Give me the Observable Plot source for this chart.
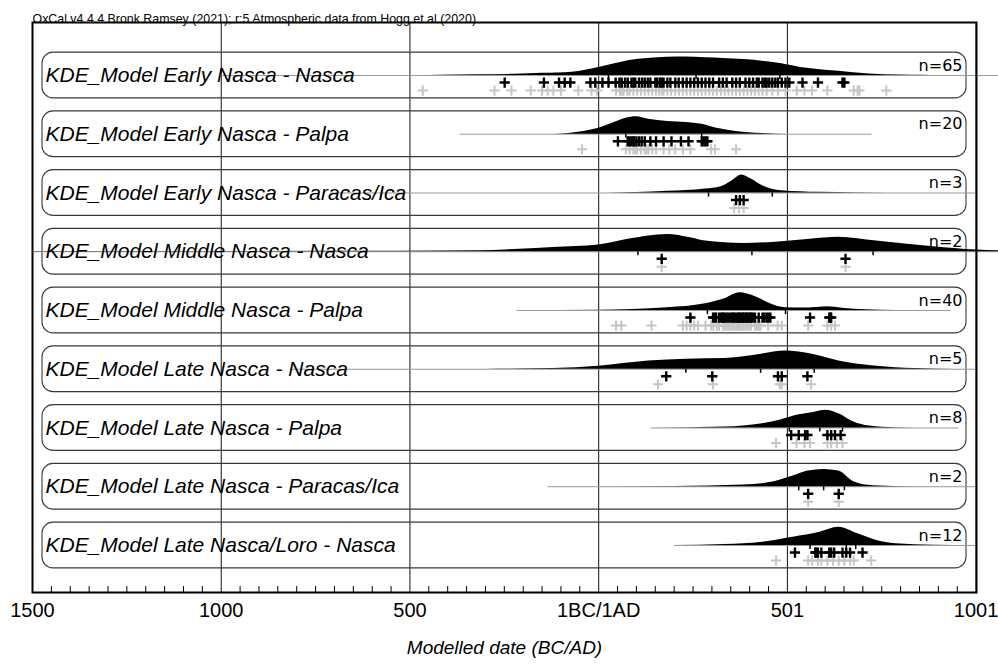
<!DOCTYPE html>
<html><head><meta charset="utf-8">
<script src="https://cdn.jsdelivr.net/npm/d3@7"></script>
<script src="https://cdn.jsdelivr.net/npm/@observablehq/plot@0.6"></script>
<style>body{margin:0;background:#fff}</style>
</head><body><div id="chart"></div>
<script>
// ---------- data ----------
const rowLabels = [
  "KDE_Model Early Nasca - Nasca",
  "KDE_Model Early Nasca - Palpa",
  "KDE_Model Early Nasca - Paracas/Ica",
  "KDE_Model Middle Nasca - Nasca",
  "KDE_Model Middle Nasca - Palpa",
  "KDE_Model Late Nasca - Nasca",
  "KDE_Model Late Nasca - Palpa",
  "KDE_Model Late Nasca - Paracas/Ica",
  "KDE_Model Late Nasca/Loro - Nasca"
];
const counts = [65, 20, 3, 2, 40, 5, 8, 2, 12];
const rangeStart = [-1005, -367, -710, -1500, -216, -817, 139, -135, 201];
const rangeEnd   = [1060, 724, 1001, 1060, 933, 1001, 954, 1001, 1001];

// KDE outlines: [year, relative height]
const kdeEarlyNasca = [[-480,0],[-420,0.3],[-320,0.8],[-221,1.2],[-150,2.2],[-70,3.3],[0,8],[40,11.5],[82,15],[130,17],[182,18.3],[230,18.5],[283,17.7],[330,17],[384,16],[440,14],[485,11.7],[535,8],[580,6],[636,4.3],[700,2],[757,0.7],[830,0.2],[880,0]];
const kdeEarlyPalpa = [[-120,0],[-80,0.8],[-39,2.7],[0,6],[41,11.7],[72,16],[100,17.5],[132,15],[182,12.7],[233,11.7],[273,10],[313,6],[364,2.7],[434,0.7],[500,0]];
const kdeEarlyIca = [[20,0],[100,0.5],[182,1.7],[283,4],[324,6.3],[354,12.3],[379,18],[404,14],[434,7.3],[485,2.3],[586,0.7],[767,0]];
const kdeMiddleNasca = [[-1500,0.2],[-1000,0.3],[-525,0.5],[-321,1],[-120,4.3],[0,6.7],[82,12.7],[182,17.3],[243,14],[283,10.7],[384,8.3],[485,10],[560,12.5],[636,14.5],[736,10.7],[887,5],[1000,1.7],[1060,1]];
const kdeMiddlePalpa = [[-216,0],[0,0.3],[182,2.7],[283,6.7],[334,11.7],[374,17.7],[414,14],[455,6.7],[495,2.7],[540,2.5],[566,2.7],[606,3.7],[646,2.3],[707,0.7],[787,0]];
const kdeLateNasca = [[-300,0],[-120,0.7],[0,3],[132,8.3],[233,10],[334,10.7],[414,14],[495,18.3],[566,15],[636,8.3],[737,3],[837,0.7],[950,0]];
const kdeLatePalpa = [[139,0],[334,1],[434,4.3],[485,8.3],[525,12.7],[566,15.3],[601,17.7],[636,14.3],[676,6],[717,2],[787,0.3],[900,0]];
const kdeLateIca = [[-135,0],[200,0.3],[384,1.7],[465,5],[515,10.7],[555,15.7],[596,17.3],[636,15.7],[676,5],[727,1],[837,0]];
const kdeLateLoro = [[201,0],[334,1],[434,3.3],[515,8.3],[586,13.3],[636,18.3],[687,11.7],[737,5],[787,1.7],[888,0.3],[1000,0]];
const kdeCurves = [kdeEarlyNasca, kdeEarlyPalpa, kdeEarlyIca, kdeMiddleNasca, kdeMiddlePalpa, kdeLateNasca, kdeLatePalpa, kdeLateIca, kdeLateLoro];

// small range marks under each distribution
const rangeMarks = [[26,258,480],[72,273],[291,460],[104,406,727],[288,495],[231,429,571],[505,586,646],[530,596,651],[560,656,681]];

// modelled (black) and unmodelled (grey) event dates
const modelled = [
  [-249,-145,-105,-90,-75,-22,-9,10,26,45,55,61,70,77,87,92,97,107,115,122,130,137,150,155,162,167,172,182,190,203,212,223,233,243,253,263,273,283,293,303,319,329,339,354,364,374,389,399,409,419,424,434,440,445,452,460,468,475,485,495,505,540,581,646,651],
  [51,77,82,87,92,94,100,107,114,122,137,152,172,193,218,238,273,278,283,288],
  [364,374,384],
  [167,654],
  [243,303,308,311,319,324,329,329,334,339,344,349,354,356,359,364,369,372,374,379,382,384,389,392,394,399,402,404,409,414,424,434,439,445,450,455,560,611,614,616],
  [179,301,475,485,553],
  [510,530,547,553,606,616,626,641],
  [555,636],
  [520,574,576,581,590,611,616,624,646,656,666,699]
];
const unmodelled = [
  [-466,-276,-231,-180,-150,-135,-120,-100,-54,-19,-4,46,56,61,66,76,82,92,102,112,122,132,142,152,160,167,172,182,192,203,213,223,233,243,253,263,273,283,293,303,313,324,334,344,354,364,374,384,394,404,414,424,434,445,460,475,495,525,545,565,606,676,686,691,762],
  [-44,72,82,92,97,102,112,122,127,132,142,152,172,187,203,223,243,298,308,364],
  [359,372,384],
  [167,654],
  [46,60,140,223,233,243,253,263,283,298,304,313,319,329,334,339,344,349,354,359,364,369,374,379,384,389,394,399,404,414,419,424,429,449,474,485,555,606,616,626],
  [157,303,480,485,563],
  [470,524,545,560,606,616,631,646],
  [555,636],
  [470,555,565,581,590,606,621,636,651,666,676,722]
];

const majorTicks = [-1500, -1000, -500, 0, 500, 1000];
const tickLabels = ["1500", "1000", "500", "1BC/1AD", "501", "1001"];
const minorTicks = d3.range(-1500, 1001, 50).filter(t => !majorTicks.includes(t));
const captionText = "OxCal v4.4.4 Bronk Ramsey (2021); r:5 Atmospheric data from Hogg et al (2020)";
const axisTitle = "Modelled date (BC/AD)";

// ---------- derived tables ----------
const xDomain = [-1500, 1001];
const ROW = 58.75; // pixels per row, to turn KDE heights into row units
const rows = rowLabels.map((label, i) => ({label, i, n: counts[i], start: rangeStart[i], end: rangeEnd[i]}));
const kdePoints = kdeCurves.flatMap((c, i) => c.map(([year, h]) => ({i, year, h})));
const markPoints = rangeMarks.flatMap((c, i) => c.map(year => ({i, year})));
const blackPts = modelled.flatMap((c, i) => c.map(year => ({i, year})));
const greyPts = unmodelled.flatMap((c, i) => c.map(year => ({i, year})));

const FONT = "Liberation Sans, Arial, sans-serif";

const chart = Plot.plot({
  width: 998, height: 664,
  marginLeft: 32, marginRight: 22, marginTop: 22, marginBottom: 72,
  style: {fontFamily: FONT, background: "white", color: "black", overflow: "visible"},
  x: {domain: xDomain, axis: null},
  y: {domain: [-0.902, 8.8], reverse: true, axis: null},
  marks: [
    Plot.ruleX(majorTicks, {stroke: "#111", strokeWidth: 1}),
    Plot.rect(rows, {x1: xDomain[0], x2: xDomain[1], y1: d => d.i - 0.39, y2: d => d.i + 0.39,
      insetLeft: 10, insetRight: 10, rx: 11, fill: "none", stroke: "#3a3a3a", strokeWidth: 1.1}),
    Plot.ruleY(rows, {y: "i", x1: "start", x2: "end", stroke: "#9a9a9a", strokeWidth: 1}),
    Plot.area(kdePoints, {x1: "year", y1: "i", y2: d => d.i - d.h / ROW, z: "i", fill: "black", curve: "monotone-x"}),
    Plot.ruleX(markPoints, {x: "year", y1: "i", y2: d => d.i + 0.07, stroke: "black", strokeWidth: 1.5}),
    Plot.dot(greyPts, {x: "year", y: d => d.i + 0.256, symbol: "plus", r: 3.4, stroke: "#c6c6c6", strokeWidth: 2}),
    Plot.dot(blackPts, {x: "year", y: d => d.i + 0.12, symbol: "plus", r: 3.4, stroke: "black", strokeWidth: 2.4}),
    Plot.text(rows, {x: xDomain[0], y: "i", text: "label", dx: 13, textAnchor: "start",
      fontSize: 21, fontStyle: "italic", fontFamily: FONT, fill: "black"}),
    Plot.text(rows, {x: xDomain[1], y: d => d.i - 0.17, text: d => "n=" + d.n, dx: -14, textAnchor: "end",
      fontSize: 16, fontFamily: "DejaVu Sans", fill: "black"}),
    Plot.frame({stroke: "black", strokeWidth: 2}),
    Plot.axisX({ticks: minorTicks, tickSize: -6, tickFormat: () => "", label: null, stroke: "black"}),
    Plot.axisX({ticks: majorTicks, tickFormat: d => tickLabels[majorTicks.indexOf(d)], tickSize: 0,
      tickPadding: 10, fontSize: 20, fontFamily: FONT, label: null, fill: "black"}),
    Plot.text([captionText], {frameAnchor: "top-left", dy: -8, textAnchor: "start", fontSize: 12.4, fontFamily: FONT, fill: "black"}),
    Plot.text([axisTitle], {frameAnchor: "bottom", dy: 61, fontSize: 19, fontStyle: "italic", fontFamily: FONT, fill: "black"})
  ]
});
document.getElementById("chart").append(chart);
</script>
</body></html>
